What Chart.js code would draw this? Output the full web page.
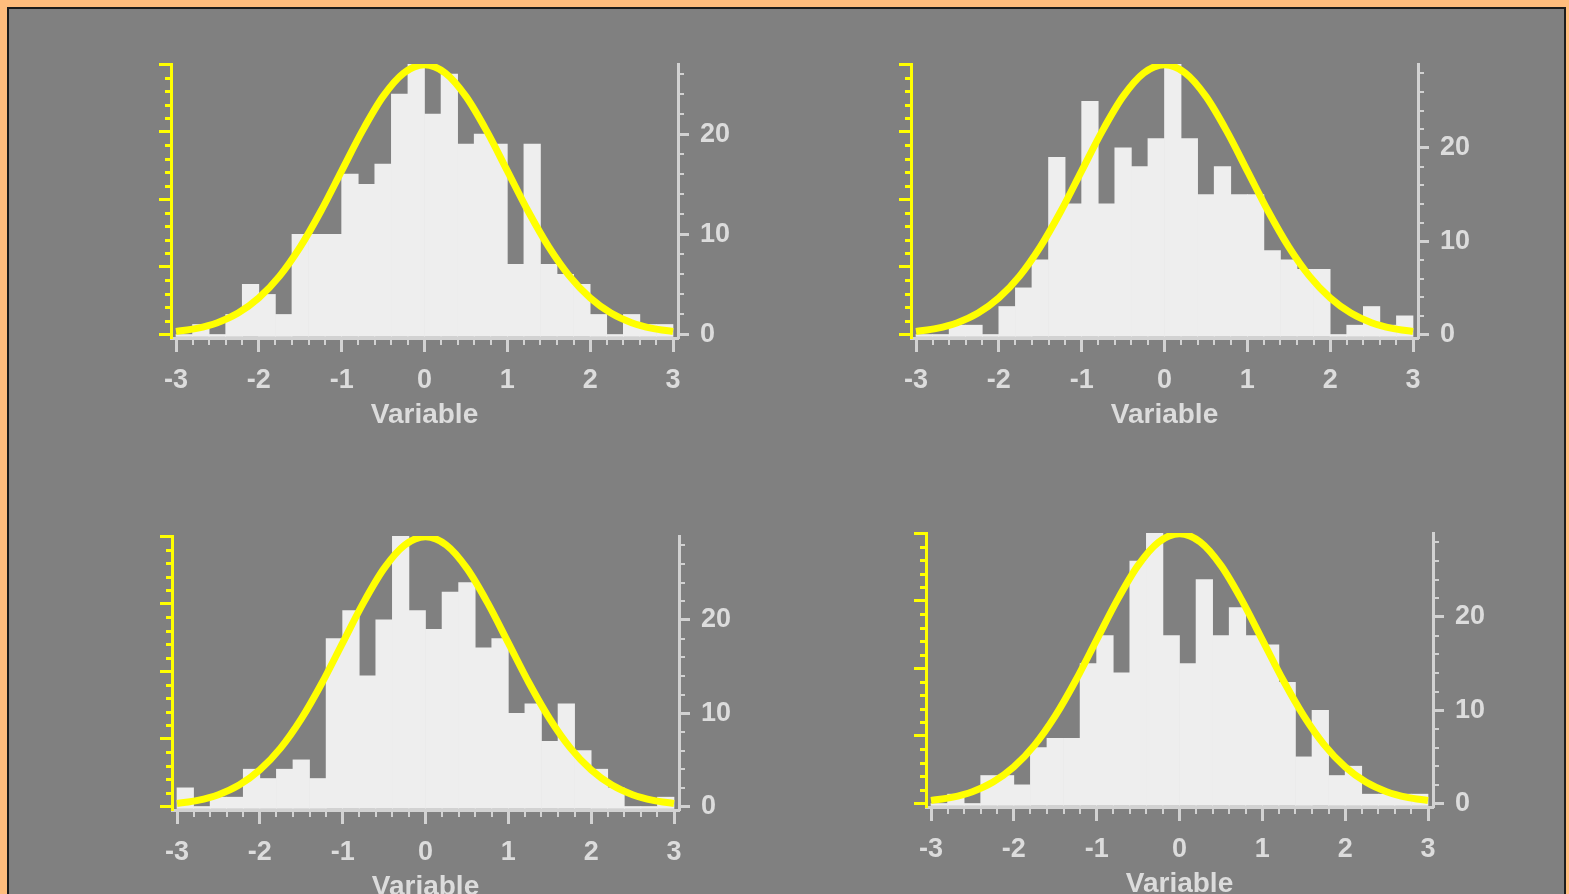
<!DOCTYPE html>
<html>
<head>
<meta charset="utf-8">
<script src="https://cdn.jsdelivr.net/npm/chart.js@4.4.1/dist/chart.umd.min.js"></script>
<style>
  html, body { margin: 0; padding: 0; width: 1569px; height: 894px; overflow: hidden; background: #ffbd7d; }
  #frame { position: absolute; left: 7px; top: 7px; width: 1559px; height: 1000px; box-sizing: border-box;
           border: 2px solid #1c1c1c; background: #808080; }
  canvas { position: absolute; }
</style>
</head>
<body>
<div id="frame"></div>
<canvas id="p1" width="627" height="398"></canvas>
<canvas id="p2" width="627" height="398"></canvas>
<canvas id="p3" width="627" height="398"></canvas>
<canvas id="p4" width="627" height="398"></canvas>
<script>
// Histogram bins: centres of the 0.2-wide bins from -3 to 3
const binCenters = [-2.9, -2.7, -2.5, -2.3, -2.1, -1.9, -1.7, -1.5, -1.3, -1.1,
                    -0.9, -0.7, -0.5, -0.3, -0.1, 0.1, 0.3, 0.5, 0.7, 0.9,
                    1.1, 1.3, 1.5, 1.7, 1.9, 2.1, 2.3, 2.5, 2.7, 2.9];

// Counts per bin, one array per sample
const countsA = [0, 1, 0, 2, 5, 4, 2, 10, 10, 10, 16, 15, 17, 24, 27, 22, 26, 19, 20, 19, 7, 19, 7, 6, 5, 2, 0, 2, 1, 1];
const countsB = [0, 0, 1, 1, 0, 3, 5, 8, 19, 14, 25, 14, 20, 18, 21, 29, 21, 15, 18, 15, 15, 9, 8, 7, 7, 0, 1, 3, 1, 2];
const countsC = [2, 0, 1, 1, 4, 3, 4, 5, 3, 18, 21, 14, 20, 29, 21, 19, 23, 24, 17, 18, 10, 11, 7, 11, 6, 4, 2, 0, 0, 1];
const countsD = [0, 1, 0, 3, 3, 2, 6, 7, 7, 15, 18, 14, 26, 29, 18, 15, 24, 18, 21, 18, 17, 13, 5, 10, 3, 4, 1, 1, 1, 1];

// Normal density curve (left axis)
const curveX = [-3, -2.75, -2.5, -2.25, -2, -1.75, -1.5, -1.25, -1, -0.75, -0.5, -0.25, 0,
                0.25, 0.5, 0.75, 1, 1.25, 1.5, 1.75, 2, 2.25, 2.5, 2.75, 3];
const curveY = [0.0044, 0.0091, 0.0175, 0.0317, 0.054, 0.0863, 0.1295, 0.1826, 0.242, 0.3011, 0.3521, 0.3867, 0.3989,
                0.3867, 0.3521, 0.3011, 0.242, 0.1826, 0.1295, 0.0863, 0.054, 0.0317, 0.0175, 0.0091, 0.0044];

// Tick labels
const xTicks = [-3, -2, -1, 0, 1, 2, 3];
const countTicks = [0, 10, 20];
const densityTicks = [0, 0.1, 0.2, 0.3, 0.4];
const xTitle = 'Variable';

// ---- styling / layout ----
const FONT = '"Liberation Sans", Arial, Helvetica, sans-serif';
const TEXT = '#dcdcdc';
const AXIS = '#d2d2d2';
const YELLOW = '#ffff00';
const BAR = '#eeeeee';
const PLOT_H = 274;      // chart-area height in px
const LIFT = 3.5;        // zero level sits this far above the x-axis line
const BASE_GAP = 1.5;    // bars start this far above the x-axis line
const X_PAD = 5;         // px between the y axes and x = -3 / 3
const PLOT_W = 507;

const panels = [
  { id: 'p1', left: 131, top: 34, counts: countsA },
  { id: 'p2', left: 871, top: 34, counts: countsB },
  { id: 'p3', left: 132, top: 506, counts: countsC },
  { id: 'p4', left: 886, top: 503, counts: countsD }
];

const minorTicks = {
  id: 'minorTicks',
  afterDraw(chart) {
    const { ctx } = chart;
    const { x, yD, yC } = chart.scales;
    ctx.save();
    ctx.lineCap = 'butt';
    // x minor ticks every 0.2
    ctx.strokeStyle = AXIS;
    ctx.lineWidth = 2;
    for (let k = -14; k <= 14; k++) {
      if (k % 5 === 0) continue;
      const px = Math.round(x.getPixelForValue(k / 5));
      ctx.beginPath();
      ctx.moveTo(px, x.top + 1);
      ctx.lineTo(px, x.top + 7);
      ctx.stroke();
    }
    // density axis minor ticks every 0.02
    ctx.strokeStyle = YELLOW;
    ctx.lineWidth = 3;
    for (let k = 1; k < 20; k++) {
      if (k % 5 === 0) continue;
      const py = Math.round(yD.getPixelForValue(k / 50)) + 0.5;
      ctx.beginPath();
      ctx.moveTo(yD.right - 6, py);
      ctx.lineTo(yD.right, py);
      ctx.stroke();
    }
    // count axis minor ticks every 2
    ctx.strokeStyle = AXIS;
    ctx.lineWidth = 2;
    for (let v = 2; v <= yC.max; v += 2) {
      if (v % 10 === 0) continue;
      const py = Math.round(yC.getPixelForValue(v));
      ctx.beginPath();
      ctx.moveTo(yC.left, py);
      ctx.lineTo(yC.left + 6, py);
      ctx.stroke();
    }
    ctx.restore();
  }
};

function makePanel(p) {
  const el = document.getElementById(p.id);
  el.style.left = p.left + 'px';
  el.style.top = p.top + 'px';

  const cMax = Math.max(...p.counts);
  const cPx = (PLOT_H - LIFT) / cMax;
  const dPx = (PLOT_H - LIFT) / 0.4;
  const xPx = (PLOT_W - 2 * X_PAD) / 6;
  const xPadU = X_PAD / xPx;

  new Chart(el, {
    type: 'bar',
    data: {
      datasets: [
        {
          type: 'line',
          data: curveX.map((v, i) => ({ x: v, y: curveY[i] })),
          yAxisID: 'yD',
          borderColor: YELLOW,
          borderWidth: 7,
          pointRadius: 0,
          cubicInterpolationMode: 'monotone',
          fill: false,
          order: 0
        },
        {
          type: 'bar',
          data: binCenters.map((v, i) => ({ x: v, y: p.counts[i] })),
          yAxisID: 'yC',
          backgroundColor: BAR,
          borderWidth: 0,
          barPercentage: 1,
          categoryPercentage: 1,
          base: -(LIFT - BASE_GAP) / cPx,
          order: 1
        }
      ]
    },
    options: {
      responsive: false,
      animation: false,
      devicePixelRatio: 1,
      layout: { padding: { top: 30, left: 0, right: 0, bottom: 0 } },
      plugins: { legend: { display: false }, tooltip: { enabled: false } },
      scales: {
        x: {
          type: 'linear',
          position: 'bottom',
          offset: false,
          min: -3 - xPadU,
          max: 3 + xPadU,
          afterBuildTicks: s => { s.ticks = xTicks.map(v => ({ value: v })); },
          afterFit: s => { s.height = 94; },
          grid: { offset: false, drawOnChartArea: false, drawTicks: true, tickLength: 14, tickWidth: 3, tickColor: AXIS },
          border: { display: true, color: AXIS, width: 3 },
          ticks: {
            color: TEXT, padding: 12, maxRotation: 0, autoSkip: false,
            font: { family: FONT, size: 27, weight: 'bold' },
            callback: v => String(v)
          },
          title: {
            display: true, text: xTitle, color: TEXT, padding: 0,
            font: { family: FONT, size: 28, weight: 'bold' }
          }
        },
        yD: {
          type: 'linear',
          position: 'left',
          min: -LIFT / dPx,
          max: 0.4,
          afterBuildTicks: s => { s.ticks = densityTicks.map(v => ({ value: v })); },
          afterFit: s => { s.width = 40; },
          grid: { drawOnChartArea: false, drawTicks: true, tickLength: 12, tickWidth: 3, tickColor: YELLOW },
          border: { display: true, color: YELLOW, width: 3 },
          ticks: { display: false }
        },
        yC: {
          type: 'linear',
          position: 'right',
          min: -LIFT / cPx,
          max: cMax,
          afterBuildTicks: s => { s.ticks = countTicks.map(v => ({ value: v })); },
          afterFit: s => { s.width = 80; },
          grid: { drawOnChartArea: false, drawTicks: true, tickLength: 11, tickWidth: 3, tickColor: AXIS },
          border: { display: true, color: AXIS, width: 3 },
          ticks: {
            color: TEXT, padding: 11,
            font: { family: FONT, size: 27, weight: 'bold' },
            callback: v => String(v)
          }
        }
      }
    },
    plugins: [minorTicks]
  });
}

panels.forEach(makePanel);
</script>
</body>
</html>
